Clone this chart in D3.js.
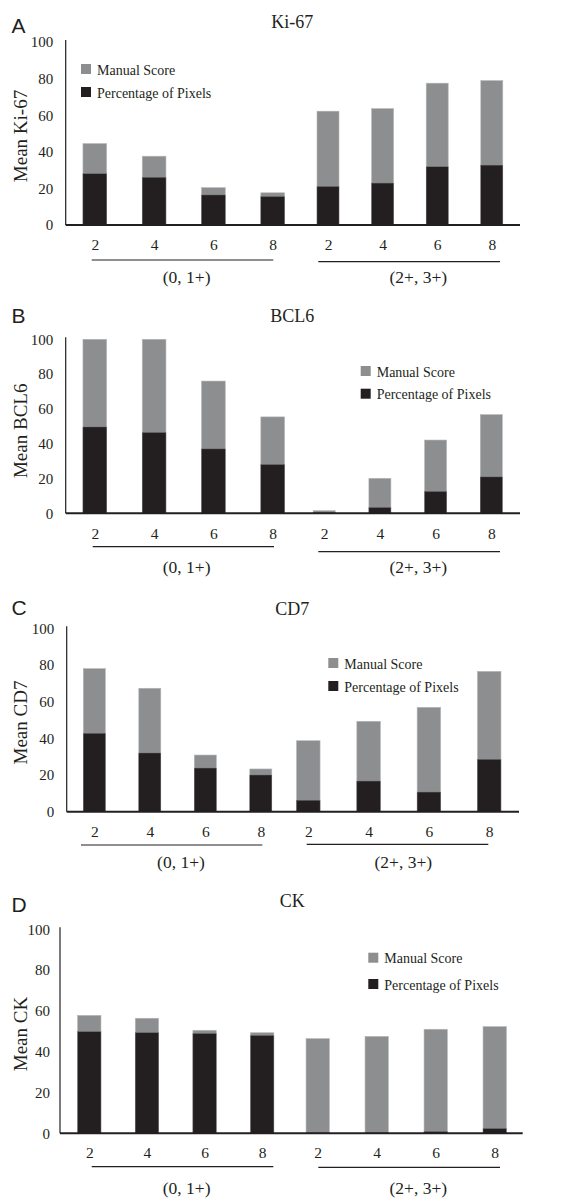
<!DOCTYPE html>
<html>
<head>
<meta charset="utf-8">
<script src="https://cdn.jsdelivr.net/npm/d3@7"></script>
<style>
  body { margin: 0; background: #fff; }
  svg { display: block; }
  text { font-family: "Liberation Serif", "Times New Roman", serif; fill: #231f20; }
</style>
</head>
<body>
<div id="wrapper"></div>
<script>
// data
const panelLetters = ['A', 'B', 'C', 'D']
const markers = ['Ki-67', 'BCL6', 'CD7', 'CK']
const groupNames = ['(0, 1+)', '(2+, 3+)']
const pixelSizes = ['2', '4', '6', '8']
const yTicks = [0, 20, 40, 60, 80, 100]
const seriesNames = ['Manual Score', 'Percentage of Pixels']

const manualKi67 = [44.5, 37.6, 20.4, 17.6, 62.2, 63.6, 77.5, 78.9]
const pixelsKi67 = [28, 26, 16.4, 15.5, 21, 22.9, 31.8, 32.7]
const manualBCL6 = [100, 100, 76, 55.4, 1.5, 20.1, 42.1, 56.7]
const pixelsBCL6 = [49.6, 46.4, 37, 28, 0.3, 3.3, 12.5, 20.9]
const manualCD7 = [78, 67.3, 30.9, 23.3, 38.7, 49.3, 56.9, 76.5]
const pixelsCD7 = [42.7, 32, 23.8, 20, 6.2, 16.7, 10.7, 28.5]
const manualCK = [57.8, 56.4, 50.5, 49.3, 46.4, 47.5, 51, 52.3]
const pixelsCK = [49.8, 49.3, 48.9, 47.9, 0.2, 0.3, 0.8, 2.3]

const manualAll = [manualKi67, manualBCL6, manualCD7, manualCK]
const pixelsAll = [pixelsKi67, pixelsBCL6, pixelsCD7, pixelsCK]

const grey = '#8d8e90'
const black = '#231f20'
const serif = '"Liberation Serif", "Times New Roman", serif'

// layout of each panel (pixels)
const layouts = [
  { top: 42, bottom: 225, axisX: 65.7, axisEnd: 520, g1: [94.8, 272.7], g2: [328, 491.8], bw: [23.7, 22],
    tickY: 245, lines: [[91.7, 273.3, 260], [318.3, 500, 261.7]], labs: [186.7, 418.3], labY: 277,
    titleY: 28, letterY: 33, legX: 81, legY: 64, legGap: 23, ylabY: 136, pad: 12.4 },
  { top: 339.3, bottom: 513.3, axisX: 65.7, axisEnd: 520, g1: [94.8, 272.7], g2: [324.2, 491.3], bw: [23.7, 22],
    tickY: 533.3, lines: [[92.7, 274, 546.7], [318.3, 500, 551.7]], labs: [186.7, 418.3], labY: 566.7,
    titleY: 321.7, letterY: 323, legX: 360.7, legY: 366, legGap: 22.7, ylabY: 430.8, pad: 12.4 },
  { top: 628.3, bottom: 811.7, axisX: 66.7, axisEnd: 519, g1: [94.3, 260.8], g2: [308.3, 489.2], bw: [22, 23.5],
    tickY: 831.7, lines: [[81, 262.3, 845], [306.7, 488.3, 844.3]], labs: [181, 403.3], labY: 861.7,
    titleY: 615, letterY: 615, legX: 328.3, legY: 658, legGap: 23, ylabY: 722.5, pad: 12.4 },
  { top: 929.3, bottom: 1133.3, axisX: 60, axisEnd: 522.7, g1: [89.3, 262.2], g2: [317.7, 494.7], bw: [23.3, 23.3],
    tickY: 1153, lines: [[91.7, 273.3, 1166.7], [318.3, 500, 1167.3]], labs: [186.7, 418.3], labY: 1188,
    titleY: 906.7, letterY: 912, legX: 368.3, legY: 952.7, legGap: 26.3, ylabY: 1034, pad: 10 }
]

const svg = d3.select('#wrapper').append('svg')
  .attr('width', 586)
  .attr('height', 1198)

function drawPanel (p) {
  const L = layouts[p]
  const g = svg.append('g').attr('class', 'panel')
  const y = d3.scaleLinear().domain([0, 100]).range([L.bottom, L.top])
  const xs = [
    d3.scalePoint().domain(pixelSizes).range(L.g1),
    d3.scalePoint().domain(pixelSizes).range(L.g2)
  ]

  // letter + title
  g.append('text').attr('x', 11.5).attr('y', L.letterY)
    .style('font-family', '"Liberation Sans", Arial, sans-serif')
    .style('font-size', '21px').text(panelLetters[p])
  g.append('text').attr('x', 292.3).attr('y', L.titleY)
    .attr('text-anchor', 'middle').style('font-family', serif)
    .style('font-size', '18px').text(markers[p])

  // y axis
  const yAxis = g.append('g')
    .attr('transform', 'translate(' + L.axisX + ',0)')
    .call(d3.axisLeft(y).tickValues(yTicks).tickSize(0).tickPadding(L.pad))
  yAxis.select('.domain').attr('stroke', black).attr('stroke-width', 1.2)
    .attr('d', 'M0,' + (L.top - 2) + 'V' + L.bottom)
  yAxis.selectAll('text').style('font-family', serif)
    .style('font-size', '15px').attr('fill', black)

  g.append('text')
    .attr('transform', 'translate(26.5,' + L.ylabY + ') rotate(-90)')
    .attr('text-anchor', 'middle').style('font-family', serif)
    .style('font-size', '19px')
    .text('Mean ' + markers[p])

  // bars: manual score behind, percentage of pixels in front
  const rows = d3.range(8).map(i => ({
    gi: Math.floor(i / 4), key: pixelSizes[i % 4],
    manual: manualAll[p][i], pixels: pixelsAll[p][i]
  }))
  const bx = d => xs[d.gi](d.key) - L.bw[d.gi] / 2
  g.selectAll('rect.manual').data(rows).enter().append('rect')
    .attr('class', 'manual')
    .attr('x', bx).attr('width', d => L.bw[d.gi])
    .attr('y', d => y(d.manual)).attr('height', d => y(0) - y(d.manual))
    .attr('fill', grey).attr('stroke', '#b4b5b7').attr('stroke-width', 0.6)
  g.selectAll('rect.pixels').data(rows).enter().append('rect')
    .attr('class', 'pixels')
    .attr('x', bx).attr('width', d => L.bw[d.gi])
    .attr('y', d => y(d.pixels)).attr('height', d => y(0) - y(d.pixels))
    .attr('fill', black).attr('stroke', '#6d6c6e').attr('stroke-width', 0.4)

  // x baseline
  g.append('line').attr('x1', L.axisX).attr('x2', L.axisEnd)
    .attr('y1', y(0)).attr('y2', y(0))
    .attr('stroke', black).attr('stroke-width', 2)

  // x tick labels
  xs.forEach((xg) => {
    const ax = g.append('g')
      .attr('transform', 'translate(0,' + L.tickY + ')')
      .call(d3.axisBottom(xg).tickSize(0).tickPadding(0))
    ax.select('.domain').remove()
    ax.selectAll('text').attr('dy', '0.35em')
      .style('font-family', serif)
      .style('font-size', '15.5px').attr('fill', black)
  })

  // group brackets
  L.lines.forEach((ln, i) => {
    g.append('line').attr('x1', ln[0]).attr('x2', ln[1])
      .attr('y1', ln[2]).attr('y2', ln[2])
      .attr('stroke', black).attr('stroke-width', 1.2)
    g.append('text').attr('x', L.labs[i]).attr('y', L.labY)
      .attr('dy', '0.35em').attr('text-anchor', 'middle')
      .style('font-family', serif)
      .style('font-size', '17.5px').text(groupNames[i])
  })

  // legend
  const leg = g.selectAll('g.leg').data(seriesNames).enter().append('g')
    .attr('class', 'leg')
    .attr('transform', (d, i) => 'translate(' + L.legX + ',' + (L.legY + i * L.legGap) + ')')
  leg.append('rect').attr('width', 10).attr('height', 10)
    .attr('fill', (d, i) => i === 0 ? grey : black)
  leg.append('text').attr('x', 16).attr('y', 10.5)
    .style('font-family', serif)
    .style('font-size', '14px').text(d => d)
}

d3.range(4).forEach(drawPanel)
</script>
</body>
</html>
